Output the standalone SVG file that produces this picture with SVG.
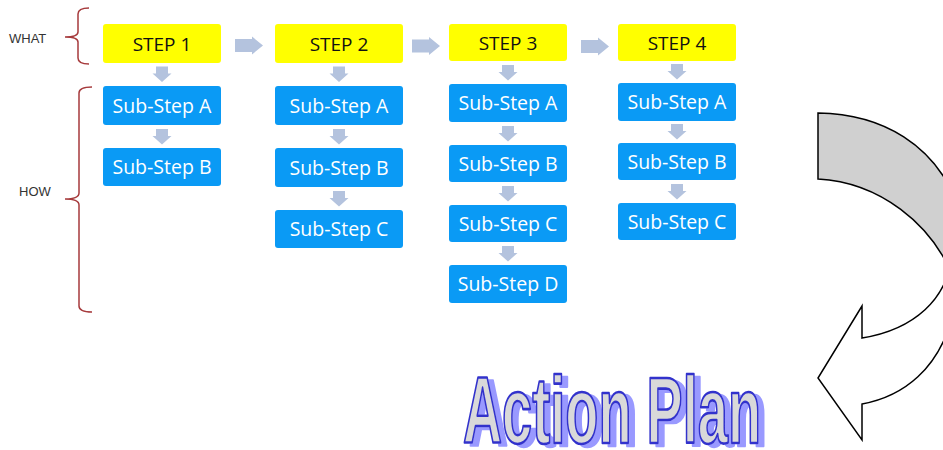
<svg xmlns="http://www.w3.org/2000/svg" width="943" height="450" viewBox="0 0 943 450">
<style>
.step{fill:#ffff00}
.sub{fill:#0a9af5}
.st{font-family:"Open Sans","Liberation Sans",sans-serif;font-size:19px;fill:#111;text-anchor:middle}
.ss{font-family:"Open Sans","Liberation Sans",sans-serif;font-size:19.5px;fill:#fff;text-anchor:middle}
.lbl{font-family:"Liberation Sans",Arial,sans-serif;font-size:13px;fill:#333}
.brace{fill:none;stroke:#a63a3c;stroke-width:1.5}
.arr{fill:#b4c3de}
</style>
<defs>
<path id="dn" class="arr" d="M-6,0 H6 V7 H9.5 L0,15.5 L-9.5,7 H-6 Z"/>
<path id="rt" class="arr" d="M0,-6.5 H17 V-9 L28,0 L17,9 V6.5 H0 Z"/>
<filter id="wa" x="-5%" y="-20%" width="115%" height="150%">
<feOffset in="SourceAlpha" dx="6" dy="3" result="off"/>
<feFlood flood-color="#9999ff"/>
<feComposite in2="off" operator="in" result="sh"/>
<feMerge><feMergeNode in="sh"/><feMergeNode in="SourceGraphic"/></feMerge>
</filter>
</defs>

<text class="lbl" x="9" y="43">WHAT</text>
<text class="lbl" x="19" y="196">HOW</text>
<path class="brace" d="M89,8 Q78,8 78,14 L78,32 Q78,37 65,37 Q78,37 78,42 L78,58 Q78,64 89,64"/>
<path class="brace" d="M92,87 Q79,87 79,93 L79,193 Q79,199 65,199 Q79,199 79,205 L79,306 Q79,312 92,312"/>

<g id="connectors">
<use href="#rt" x="235" y="45.5"/>
<use href="#rt" x="412" y="46"/>
<use href="#rt" x="581" y="46.5"/>
<use href="#dn" x="162" y="66.5"/>
<use href="#dn" x="162" y="129"/>
<use href="#dn" x="339" y="66.5"/>
<use href="#dn" x="339" y="129"/>
<use href="#dn" x="339" y="191"/>
<use href="#dn" x="508" y="65"/>
<use href="#dn" x="508" y="126"/>
<use href="#dn" x="508" y="186"/>
<use href="#dn" x="508" y="246"/>
<use href="#dn" x="677" y="64"/>
<use href="#dn" x="677" y="124"/>
<use href="#dn" x="677" y="184"/>
</g>

<g id="step1"><rect class="step" x="103" y="24" width="118" height="39" rx="3"/><text class="st" x="162" y="50.5">STEP 1</text></g>
<g id="s1a"><rect class="sub" x="103" y="86" width="118" height="39" rx="3"/><text class="ss" x="162" y="112.5">Sub-Step A</text></g>
<g id="s1b"><rect class="sub" x="103" y="148" width="118" height="38" rx="3"/><text class="ss" x="162" y="174">Sub-Step B</text></g>

<g id="step2"><rect class="step" x="275" y="24" width="128" height="39" rx="3"/><text class="st" x="339" y="50.5">STEP 2</text></g>
<g id="s2a"><rect class="sub" x="275" y="86" width="128" height="39" rx="3"/><text class="ss" x="339" y="112.5">Sub-Step A</text></g>
<g id="s2b"><rect class="sub" x="275" y="148" width="128" height="39" rx="3"/><text class="ss" x="339" y="174.5">Sub-Step B</text></g>
<g id="s2c"><rect class="sub" x="275" y="210" width="128" height="38" rx="3"/><text class="ss" x="339" y="236">Sub-Step C</text></g>

<g id="step3"><rect class="step" x="449" y="24" width="118" height="37" rx="3"/><text class="st" x="508" y="49.5">STEP 3</text></g>
<g id="s3a"><rect class="sub" x="449" y="84" width="118" height="38" rx="3"/><text class="ss" x="508" y="110">Sub-Step A</text></g>
<g id="s3b"><rect class="sub" x="449" y="145" width="118" height="37" rx="3"/><text class="ss" x="508" y="170.5">Sub-Step B</text></g>
<g id="s3c"><rect class="sub" x="449" y="205" width="118" height="37" rx="3"/><text class="ss" x="508" y="230.5">Sub-Step C</text></g>
<g id="s3d"><rect class="sub" x="449" y="265" width="118" height="38" rx="3"/><text class="ss" x="508" y="291">Sub-Step D</text></g>

<g id="step4"><rect class="step" x="618" y="24" width="118" height="37" rx="3"/><text class="st" x="677" y="49.5">STEP 4</text></g>
<g id="s4a"><rect class="sub" x="618" y="83" width="118" height="38" rx="3"/><text class="ss" x="677" y="109">Sub-Step A</text></g>
<g id="s4b"><rect class="sub" x="618" y="143" width="118" height="37" rx="3"/><text class="ss" x="677" y="168.5">Sub-Step B</text></g>
<g id="s4c"><rect class="sub" x="618" y="203" width="118" height="37" rx="3"/><text class="ss" x="677" y="228.5">Sub-Step C</text></g>

<g id="curved-arrow" stroke="#000" stroke-width="1.5" stroke-linejoin="miter">
<path fill="#fff" d="M952,250 C950,300 912,330 862,338 L862,306 L818,378 L862,440 L862,404 C905,396 938,368 952,318 Z"/>
<path fill="#d0d0d0" d="M818,113 C883,114 935,145 958,205 L958,290 C935,220 875,182 818,179 Z"/>
</g>

<g id="title" filter="url(#wa)">
<text x="463" y="443" textLength="298" lengthAdjust="spacingAndGlyphs" font-family="'Liberation Sans',Arial,sans-serif" font-weight="bold" font-size="95" fill="#d9d9d9" stroke="#3333cc" stroke-width="2.6" stroke-linejoin="round">Action Plan</text>
</g>
</svg>
